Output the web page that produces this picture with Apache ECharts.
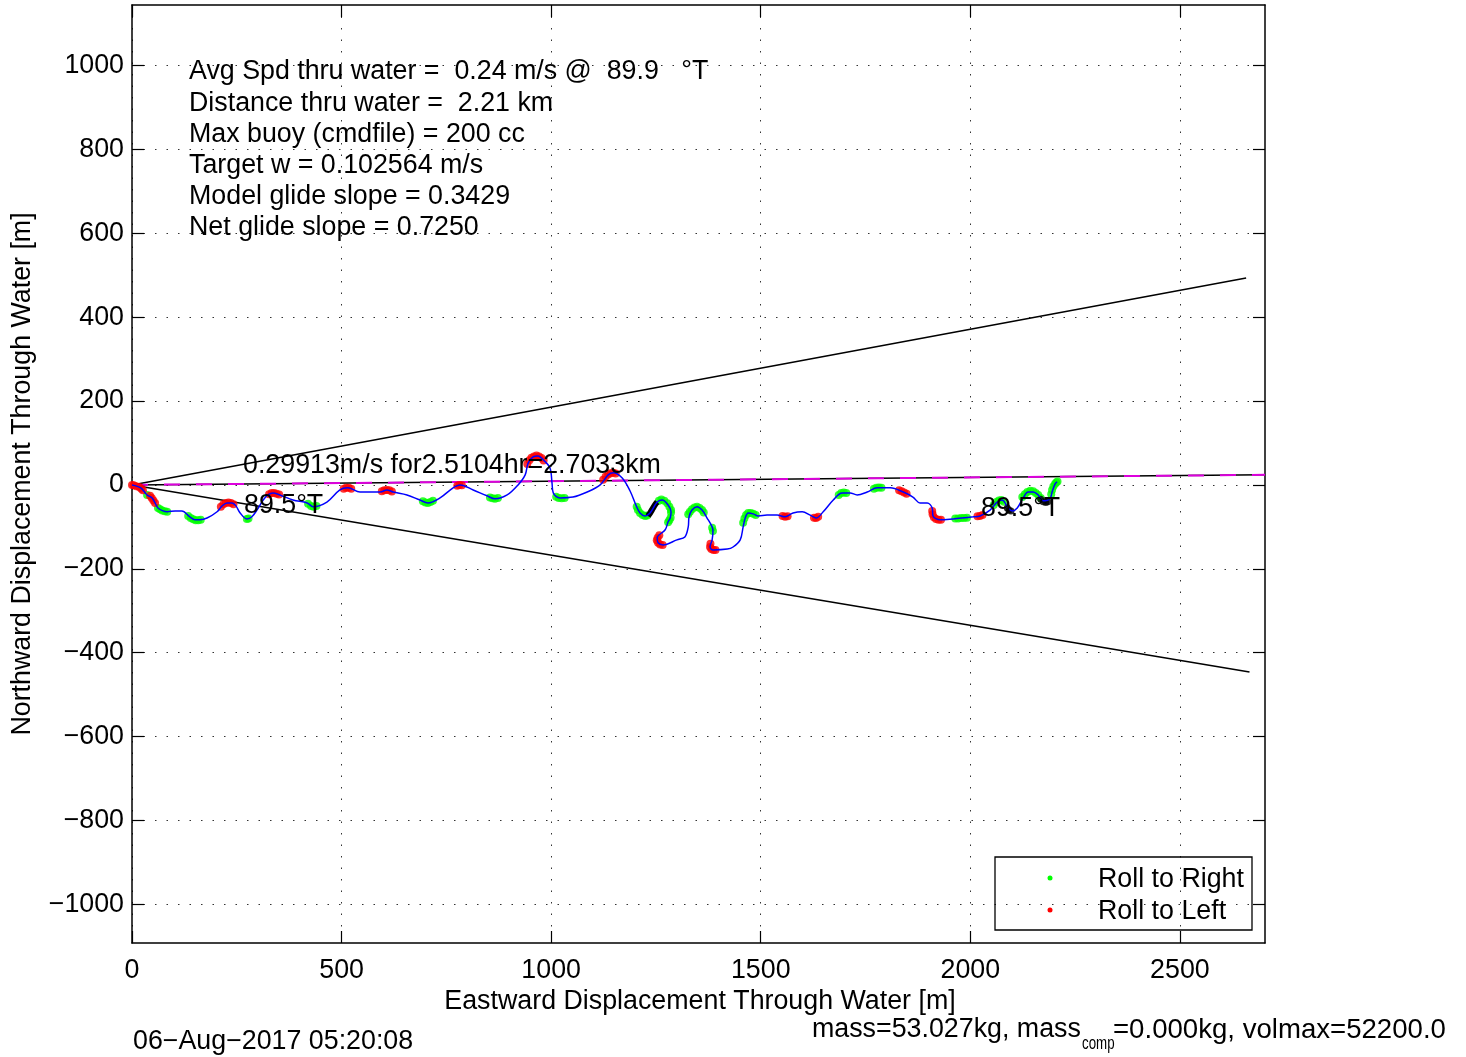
<!DOCTYPE html>
<html>
<head>
<meta charset="utf-8">
<script src="https://cdn.jsdelivr.net/npm/echarts@6/dist/echarts.min.js"></script>
<style>
  html, body { margin: 0; padding: 0; background: #fff; }
  #chart { width: 1466px; height: 1057px; }
</style>
</head>
<body>
<div id="chart"></div>
<script>
// axis ranges and ticks
const xRange = [0, 2703];
const yRange = [-1092, 1144];
const xTicks = [0, 500, 1000, 1500, 2000, 2500];
const yTicks = [-1000, -800, -600, -400, -200, 0, 200, 400, 600, 800, 1000];

// glider track through water [east m, north m]
const track = [
  [0, 0], [21, -7], [36, -24], [48, -31], [55, -43], [62, -55], [74, -62], [84, -64],
  [103, -62], [119, -62], [138, -76], [150, -83], [162, -83], [179, -79], [203, -64],
  [215, -50], [227, -43], [239, -43], [248, -50], [258, -67], [274, -81], [286, -76],
  [298, -60], [313, -36], [324, -24], [336, -19], [353, -24], [384, -36], [418, -43],
  [432, -52], [465, -41], [496, -12], [515, -7], [544, -17], [592, -17], [608, -12],
  [623, -17], [656, -24], [687, -36], [706, -43], [735, -31], [766, -7], [783, 0],
  [814, -12], [847, -26], [866, -33], [895, -24], [921, 0], [938, 24], [945, 52],
  [957, 67], [969, 69], [981, 60], [997, 41], [1002, 5], [1005, -19], [1021, -31],
  [1052, -29], [1086, -17], [1117, 0], [1136, 24], [1148, 29], [1169, 17], [1188, -14],
  [1203, -50], [1212, -67], [1224, -74], [1236, -67], [1253, -41], [1265, -36],
  [1279, -48], [1286, -64], [1284, -79], [1279, -88], [1272, -107], [1253, -126],
  [1255, -138], [1267, -143], [1300, -131], [1319, -124], [1327, -100], [1329, -76],
  [1336, -60], [1348, -52], [1360, -60], [1372, -79], [1384, -100], [1386, -110],
  [1384, -131], [1379, -148], [1386, -155], [1420, -153], [1434, -148], [1451, -131],
  [1458, -100], [1463, -79], [1470, -67], [1482, -69], [1494, -74], [1515, -72],
  [1539, -72], [1558, -76], [1577, -67], [1599, -64], [1618, -72], [1632, -79],
  [1649, -64], [1673, -36], [1694, -19], [1713, -19], [1730, -24], [1754, -17],
  [1778, -7], [1809, -7], [1840, -17], [1863, -29], [1880, -43], [1897, -43],
  [1909, -55], [1911, -74], [1928, -83], [1959, -81], [1980, -79], [2007, -76],
  [2023, -74], [2047, -60], [2064, -41], [2076, -36], [2090, -55], [2100, -62],
  [2112, -55], [2126, -31], [2138, -17], [2150, -17], [2162, -24], [2174, -38],
  [2190, -33], [2195, -17], [2202, 2], [2207, 7]
];

// roll to right samples
const rollRight = [
  [36, -24], [62, -55], [67, -58], [72, -61], [78, -63], [84, -64],
  [134, -74], [140, -79], [146, -82], [152, -84], [158, -84], [164, -83],
  [274, -81], [278, -80],
  [420, -45], [427, -50], [433, -52], [440, -50],
  [694, -39], [700, -42], [706, -43], [712, -41], [718, -38],
  [854, -30], [860, -32], [866, -33], [873, -31],
  [1012, -28], [1018, -31], [1025, -32], [1032, -31],
  [1204, -52], [1207, -60], [1212, -67], [1218, -72], [1224, -74], [1229, -73],
  [1257, -38], [1263, -35], [1270, -38], [1277, -44], [1282, -52], [1286, -60],
  [1286, -66], [1285, -78], [1282, -84], [1279, -89],
  [1327, -70], [1331, -64], [1336, -58], [1342, -54], [1348, -52], [1354, -55],
  [1360, -60], [1364, -66],
  [1384, -102], [1386, -110],
  [1458, -90], [1461, -80], [1465, -72], [1470, -67], [1476, -67], [1482, -69], [1488, -72],
  [1686, -24], [1692, -19], [1698, -18], [1704, -19],
  [1770, -9], [1776, -7], [1782, -6], [1788, -7],
  [1964, -80], [1971, -80], [1978, -79], [1985, -79], [1992, -78],
  [2056, -48], [2062, -41], [2068, -37], [2074, -36], [2080, -40],
  [2124, -29], [2130, -22], [2136, -17], [2143, -14], [2150, -15], [2156, -19],
  [2162, -24], [2168, -31],
  [2193, -22], [2195, -12], [2198, -4], [2202, 2], [2205, 6], [2208, 8]
];

// roll to left samples
const rollLeft = [
  [0, 0], [4, -1], [10, -3],
  [17, -5], [22, -9], [26, -13],
  [43, -26], [47, -31], [51, -37], [55, -43],
  [212, -52], [218, -46], [224, -43], [230, -42], [236, -43], [242, -46],
  [327, -22], [333, -19], [339, -19], [345, -21], [351, -23],
  [505, -9], [511, -7], [517, -7], [523, -9],
  [596, -15], [602, -13], [608, -12], [614, -13], [620, -16],
  [776, -2], [781, 0], [787, -1],
  [943, 50], [948, 59], [953, 65], [959, 68], [965, 70], [971, 68], [977, 64], [982, 58],
  [1124, 12], [1130, 20], [1136, 25], [1142, 28], [1148, 29], [1154, 27],
  [1258, -120], [1254, -126], [1252, -132], [1255, -138], [1260, -142], [1266, -143],
  [1380, -140], [1379, -148], [1382, -153], [1387, -155], [1392, -155],
  [1552, -74], [1558, -76], [1564, -75],
  [1627, -78], [1632, -79], [1637, -76],
  [1830, -13], [1836, -15], [1842, -18], [1848, -21],
  [1909, -62], [1910, -70], [1913, -77], [1918, -81], [1924, -83], [1930, -83],
  [2017, -75], [2023, -74], [2029, -72]
];

const blackSegment = [[1231, -74], [1236, -67], [1242, -57], [1248, -47], [1253, -41]];
const blackDots = [[2088, -55], [2092, -60], [2097, -62], [2168, -34], [2174, -40], [2180, -42], [2185, -40]];

// heading lines
const upperBound = [[0, 0], [2658, 493]];
const lowerBound = [[0, 0], [2666, -446]];
const headingLine = [[0, 0], [2703, 24]];

const statsLines = [
  'Avg Spd thru water =  0.24 m/s @  89.9   \u00b0T',
  'Distance thru water =  2.21 km',
  'Max buoy (cmdfile) = 200 cc',
  'Target w = 0.102564 m/s',
  'Model glide slope = 0.3429',
  'Net glide slope = 0.7250'
];

const FONT = '"Liberation Sans", Arial, Helvetica, sans-serif';
const FS = 26.8;

const chart = echarts.init(document.getElementById('chart'));

const fmt = (v) => (v < 0 ? '\u2212' + Math.abs(v) : String(v));

const txt = (x, y, text, extra) => ({
  type: 'text', x: x, y: y, z: 100,
  style: Object.assign({ text: text, font: FS + 'px ' + FONT, fill: '#000',
    textAlign: 'left', textVerticalAlign: 'middle' }, extra || {})
});

const graphics = [];
statsLines.forEach((s, i) => {
  graphics.push(txt(189, 72 + i * 31.2, s));
});
graphics.push(txt(243, 466, '0.29913m/s for2.5104hr=2.7033km'));
graphics.push(txt(244, 506, '89.5\u00b0T'));
graphics.push(txt(981, 509, '89.5\u00b0T'));
graphics.push(Object.assign(txt(23, 474, 'Northward Displacement Through Water [m]', { textAlign: 'center' }), { rotation: Math.PI / 2 }));
graphics.push(txt(700, 1002, 'Eastward Displacement Through Water [m]', { textAlign: 'center' }));
graphics.push(txt(133, 1042, '06\u2212Aug\u22122017 05:20:08'));

// footer with subscript
graphics.push(txt(812, 1030, 'mass=53.027kg, mass'));
graphics.push(Object.assign(txt(1082, 1044, 'comp', { font: '19px ' + FONT }), { scaleX: 0.7 }));
graphics.push(txt(1113, 1030, '=0.000kg, volmax=52200.0', { font: '27.6px ' + FONT }));

// legend box
graphics.push({ type: 'rect', z: 90, shape: { x: 995, y: 857, width: 257, height: 73 },
  style: { fill: 'none', stroke: '#000', lineWidth: 1.3 } });
graphics.push({ type: 'circle', z: 100, shape: { cx: 1050, cy: 878, r: 2.5 }, style: { fill: '#00ff00' } });
graphics.push({ type: 'circle', z: 100, shape: { cx: 1050, cy: 910, r: 2.5 }, style: { fill: '#ff0000' } });
graphics.push(txt(1098, 880, 'Roll to Right'));
graphics.push(txt(1098, 912, 'Roll to Left'));

const axisLineStyle = { color: '#000', width: 1.5 };
const tickStyle = { color: '#000', width: 1.2 };
const gridStyle = { color: '#333', width: 1, type: [1.5, 10] };

const option = {
  animation: false,
  backgroundColor: '#fff',
  grid: { left: 132, top: 5, width: 1133, height: 938, containLabel: false },
  xAxis: [
    {
      type: 'value', position: 'bottom', min: xRange[0], max: xRange[1],
      axisLine: { show: true, onZero: false, lineStyle: axisLineStyle },
      axisTick: { show: true, inside: true, length: 12, customValues: xTicks, lineStyle: tickStyle },
      axisLabel: { show: true, customValues: xTicks, margin: 14, color: '#000', fontSize: FS, fontFamily: FONT, formatter: fmt },
      splitLine: { show: true, lineStyle: gridStyle }
    },
    {
      type: 'value', position: 'top', min: xRange[0], max: xRange[1],
      axisLine: { show: true, onZero: false, lineStyle: axisLineStyle },
      axisTick: { show: true, inside: true, length: 12, customValues: xTicks, lineStyle: tickStyle },
      axisLabel: { show: false },
      splitLine: { show: false }
    }
  ],
  yAxis: [
    {
      type: 'value', position: 'left', min: yRange[0], max: yRange[1],
      axisLine: { show: true, onZero: false, lineStyle: axisLineStyle },
      axisTick: { show: true, inside: true, length: 12, customValues: yTicks, lineStyle: tickStyle },
      axisLabel: { show: true, customValues: yTicks, margin: 8, padding: [4, 0, 0, 0], color: '#000', fontSize: FS, fontFamily: FONT, formatter: fmt },
      splitLine: { show: true, lineStyle: gridStyle }
    },
    {
      type: 'value', position: 'right', min: yRange[0], max: yRange[1],
      axisLine: { show: true, onZero: false, lineStyle: axisLineStyle },
      axisTick: { show: true, inside: true, length: 12, customValues: yTicks, lineStyle: tickStyle },
      axisLabel: { show: false },
      splitLine: { show: false }
    }
  ],
  series: [
    { type: 'line', data: upperBound, symbol: 'none', lineStyle: { color: '#000', width: 1.5 }, z: 2 },
    { type: 'line', data: lowerBound, symbol: 'none', lineStyle: { color: '#000', width: 1.5 }, z: 2 },
    { type: 'line', data: headingLine, symbol: 'none', lineStyle: { color: '#000', width: 1.5 }, z: 2 },
    { type: 'line', data: headingLine, symbol: 'none', lineStyle: { color: '#dd00dd', width: 2, type: [16, 16] }, z: 3 },
    { name: 'Roll to Right', type: 'scatter', data: rollRight, symbol: 'circle', symbolSize: 8,
      itemStyle: { color: '#00ff00' }, z: 4 },
    { name: 'Roll to Left', type: 'scatter', data: rollLeft, symbol: 'circle', symbolSize: 8,
      itemStyle: { color: '#ff0000' }, z: 4 },
    { type: 'line', data: blackSegment, symbol: 'none', smooth: 0.3, lineStyle: { color: '#000', width: 6 }, z: 5 },
    { type: 'scatter', data: blackDots, symbol: 'circle', symbolSize: 7, itemStyle: { color: '#000' }, z: 5 },
    { type: 'line', data: track, symbol: 'none', smooth: 0.35, lineStyle: { color: '#0000ff', width: 1.5 }, z: 6 }
  ],
  graphic: graphics
};

chart.setOption(option);
</script>
</body>
</html>
